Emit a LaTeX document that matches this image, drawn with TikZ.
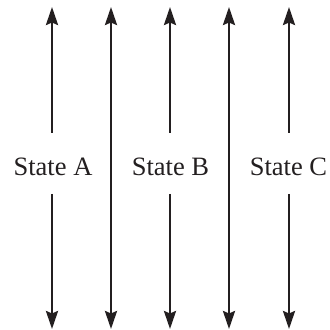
\documentclass[tikz,border=0pt]{standalone}
\usepackage{fontspec}
\setmainfont{Liberation Serif}
\usetikzlibrary{arrows.meta}
\definecolor{ink}{HTML}{231F20}
\begin{document}
\begin{tikzpicture}[x=1pt,y=1pt,
  tip/.style={Stealth[length=18pt,width=12pt,inset=2.5pt]},
  arr/.style={draw=ink,line width=2.6pt,-{Stealth[length=18pt,width=12pt,inset=2.5pt]}},
  darr/.style={draw=ink,line width=2.6pt,{Stealth[length=18pt,width=12pt,inset=2.5pt]}-{Stealth[length=18pt,width=12pt,inset=2.5pt]}},
  lbl/.style={anchor=base,inner sep=0pt,text=ink,font=\fontsize{26.5}{30}\selectfont}]
\useasboundingbox (0,0) rectangle (330,330);
% labels
\node[lbl] (A) at (53,154) {State A};
\node[lbl] (B) at (170.5,154) {State B};
\node[lbl] (C) at (288.5,154) {State C};
% gap ends around labels
\coordinate (Au) at (52,197);  \coordinate (Ad) at (52,136);
\coordinate (Bu) at (170,197); \coordinate (Bd) at (170,136);
\coordinate (Cu) at (289,197); \coordinate (Cd) at (289,136);
% tips
\coordinate (At) at (52,323);  \coordinate (Ab) at (52,1);
\coordinate (Bt) at (170,323); \coordinate (Bb) at (170,1);
\coordinate (Ct) at (289,323); \coordinate (Cb) at (289,1);
\coordinate (Dt) at (111,323); \coordinate (Db) at (111,1);
\coordinate (Et) at (229,323); \coordinate (Eb) at (229,1);
% arrows
\draw[arr] (Au) -- (At);
\draw[arr] (Ad) -- (Ab);
\draw[arr] (Bu) -- (Bt);
\draw[arr] (Bd) -- (Bb);
\draw[arr] (Cu) -- (Ct);
\draw[arr] (Cd) -- (Cb);
\draw[darr] (Dt) -- (Db);
\draw[darr] (Et) -- (Eb);
\end{tikzpicture}
\end{document}
